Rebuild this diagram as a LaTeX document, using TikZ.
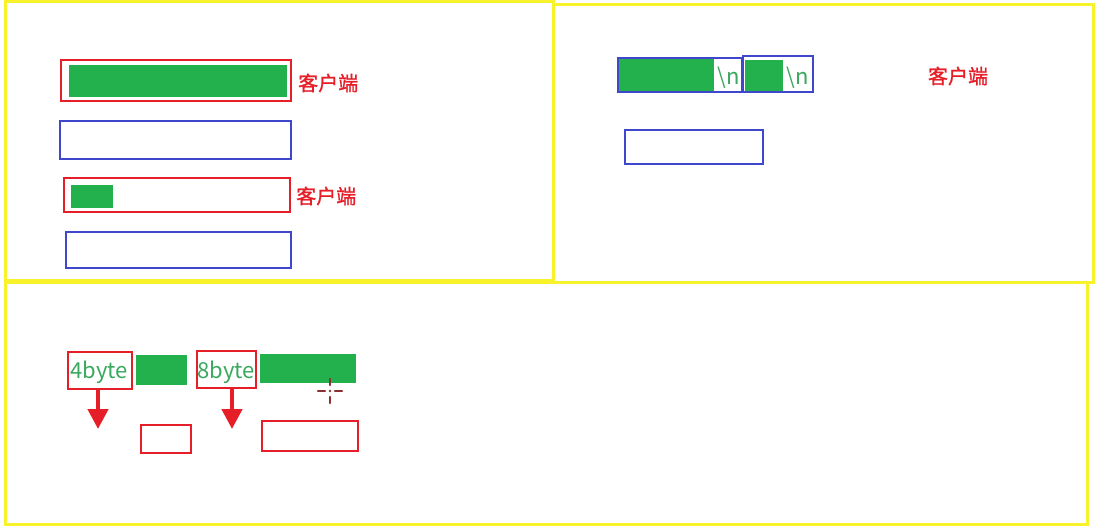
\documentclass[tikz,border=0pt]{standalone}
\usepackage{fontspec}
\newfontfamily\cjk[FakeBold=1.2]{Noto Sans CJK SC}
\newfontfamily\cjkr{Noto Sans CJK SC}
\usetikzlibrary{arrows.meta,calc}
\definecolor{ylw}{HTML}{F8F22A}
\definecolor{rd}{HTML}{E61E28}
\definecolor{bl}{HTML}{3F48CC}
\definecolor{gr}{HTML}{22B14C}
\definecolor{gtxt}{HTML}{3AA85E}
\definecolor{curs}{HTML}{8B3030}
\tikzset{
  frame/.style={draw=ylw,line width=3pt},
  box/.style={inner sep=0pt,outer sep=0pt,line width=2.8pt,fill=none},
  redbox/.style={box,draw=rd},
  bluebox/.style={box,draw=bl},
  greenbar/.style={inner sep=0pt,outer sep=0pt,fill=gr,draw=none},
  lbl/.style={text=rd,font=\cjk\fontsize{20}{24}\selectfont,inner sep=0pt},
  nl/.style={text=gtxt,font=\cjkr\fontsize{22}{26}\selectfont,inner sep=0pt},
  bytetxt/.style={text=gtxt,font=\cjkr\fontsize{22}{26}\selectfont},
  downarrow/.style={draw=rd,line width=4.5pt,-{Triangle[width=20pt,length=20pt]}},
  cursline/.style={draw=curs,line width=2.5pt,line cap=round}
}
\begin{document}
\begin{tikzpicture}[x=1pt,y=-1pt]
\useasboundingbox (0,0) rectangle (1095,532);
\fill[white] (0,0) rectangle (1095,532);
% frames
\draw[frame] (5,2) rectangle (553,280);
\draw[frame] (553,5) rectangle (1093,282);
\draw[frame] (5,282) rectangle (1087,524);
% top-left
\node[greenbar,minimum width=218,minimum height=32] (g1) at (178,81) {};
\node[redbox,minimum width=230,minimum height=41] (r1) at (176,80.5) {};
\node[lbl,anchor=west] (l1) at (298,83) {客户端};
\node[bluebox,minimum width=231,minimum height=38] (b1) at (175.5,140) {};
\node[greenbar,minimum width=42,minimum height=23] (g2) at (92,196.5) {};
\node[redbox,minimum width=226,minimum height=34] (r2) at (177,195) {};
\node[lbl,anchor=west] (l2) at (296,196) {客户端};
\node[bluebox,minimum width=225,minimum height=36] (b2) at (178.5,250) {};
% top-right
\node[greenbar,minimum width=96,minimum height=35] (gA) at (666,76) {};
\node[bluebox,minimum width=124,minimum height=34] (bA) at (680,75) {};
\node[nl] (nA) at (729,78) {\textbackslash n};
\node[greenbar,minimum width=38,minimum height=31] (gB) at (764,75.5) {};
\node[bluebox,minimum width=70,minimum height=36] (bB) at (778,74) {};
\node[nl] (nB) at (798,78) {\textbackslash n};
\node[lbl] (l3) at (958,76) {客户端};
\node[bluebox,minimum width=138,minimum height=34] (bC) at (694,147) {};
% bottom
\node[redbox,minimum width=64,minimum height=37] (rb1) at (100,370.5) {};
\node[bytetxt] (t1) at (99,372) {4byte};
\node[greenbar,minimum width=51,minimum height=30] (gb1) at (161.5,370) {};
\node[redbox,minimum width=59,minimum height=37] (rb2) at (226.5,369.5) {};
\node[bytetxt] (t2) at (226,372) {8byte};
\node[greenbar,minimum width=96,minimum height=29] (gb2) at (308,368.5) {};
\node[redbox,minimum width=50,minimum height=28] (rb3) at (166,439) {};
\node[redbox,minimum width=96,minimum height=30] (rb4) at (310,436) {};
\coordinate (a1) at (98,429);
\coordinate (a2) at (232,429);
\draw[downarrow] (rb1.south -| a1) -- (a1);
\draw[downarrow] (rb2.south -| a2) -- (a2);
% cursor
\coordinate (cu) at (330,391);
\draw[cursline] ($(cu)+(-12,0)$) -- ($(cu)+(-5,0)$);
\draw[cursline] ($(cu)+(5,0)$) -- ($(cu)+(12,0)$);
\draw[cursline] ($(cu)+(0,-12)$) -- ($(cu)+(0,-6)$);
\draw[cursline] ($(cu)+(0,6)$) -- ($(cu)+(0,12)$);
\fill[curs] (cu) circle (1.3);
\end{tikzpicture}
\end{document}
